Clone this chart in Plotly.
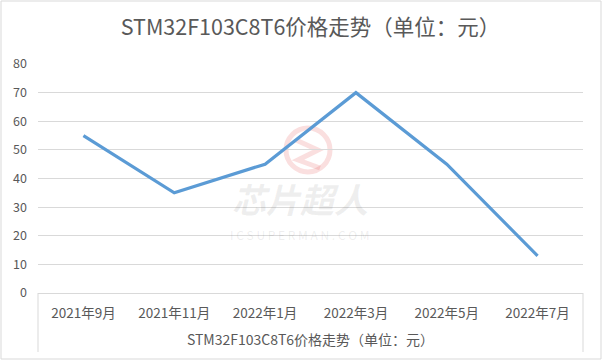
import plotly.graph_objects as go

categories = ["2021年9月", "2021年11月", "2022年1月", "2022年3月", "2022年5月", "2022年7月"]
prices = [55, 35, 45, 70, 45, 13]
y_ticks = [0, 10, 20, 30, 40, 50, 60, 70, 80]
title_text = "STM32F103C8T6价格走势（单位：元）"
axis_title = "STM32F103C8T6价格走势（单位：元）"

FONT = "Noto Sans CJK SC"
TXT = "#595959"
GRID = "#D9D9D9"

W, H = 602, 362
L, R, T, B = 38, 19, 64, 69
pw, ph = W - L - R, H - T - B

def px(x):
    return (x - L) / pw

def py(y):
    return (H - B - y) / ph

fig = go.Figure()
fig.add_trace(go.Scatter(
    x=categories, y=prices, mode="lines",
    line=dict(color="#5B9BD5", width=3.2),
    hoverinfo="x+y", showlegend=False,
))

shapes = [
    dict(type="rect", xref="paper", yref="paper",
         x0=px(1), x1=px(601), y0=py(359), y1=py(1),
         line=dict(color=GRID, width=1), layer="below"),
    dict(type="line", xref="paper", yref="paper", x0=0, x1=0, y0=0, y1=py(352),
         line=dict(color=GRID, width=1)),
    dict(type="line", xref="paper", yref="paper", x0=1, x1=1, y0=0, y1=py(352),
         line=dict(color=GRID, width=1)),
    dict(type="circle", xref="paper", yref="paper",
         x0=px(286), x1=px(330), y0=py(172), y1=py(128),
         line=dict(color="rgba(230,80,80,0.18)", width=5), layer="below"),
    dict(type="path", xref="paper", yref="paper",
         path=f"M {px(296)} {py(140)} L {px(318)} {py(150)} L {px(298)} {py(160)} L {px(320)} {py(168)}",
         line=dict(color="rgba(230,80,80,0.18)", width=5), layer="below"),
]

annotations = [
    dict(text="<b><i>芯片超人</i></b>", xref="paper", yref="paper", x=px(300), y=py(199),
         showarrow=False, font=dict(family=FONT, size=34, color="rgba(120,120,120,0.13)"),
         xanchor="center", yanchor="middle"),
    dict(text="I C S U P E R M A N . C O M", xref="paper", yref="paper", x=px(300), y=py(234),
         showarrow=False, font=dict(family=FONT, size=12, color="rgba(120,120,120,0.13)"),
         xanchor="center", yanchor="middle"),
]

fig.update_layout(
    width=W, height=H,
    margin=dict(l=L, r=R, t=T, b=B, pad=0),
    paper_bgcolor="white", plot_bgcolor="white",
    title=dict(text=title_text, x=0.5, xref="paper", xanchor="center",
               y=1 - 27 / H, yanchor="middle", yref="container",
               font=dict(family=FONT, size=21.5, color=TXT)),
    font=dict(family=FONT, color=TXT, size=12),
    xaxis=dict(type="category", range=[-0.5, 5.5], showgrid=False, showline=False,
               zeroline=False, ticks="", tickfont=dict(size=13.5, color=TXT),
               ticklabelstandoff=10,
               title=dict(text=axis_title, font=dict(size=14, color=TXT), standoff=14)),
    yaxis=dict(range=[0, 80], tickvals=y_ticks, showgrid=True, gridcolor=GRID, gridwidth=1,
               zeroline=True, zerolinecolor=GRID, zerolinewidth=1, showline=False,
               ticks="", tickfont=dict(size=12.5, color=TXT), ticklabelstandoff=10),
    shapes=shapes,
    annotations=annotations,
)

fig.write_html("out.html")
